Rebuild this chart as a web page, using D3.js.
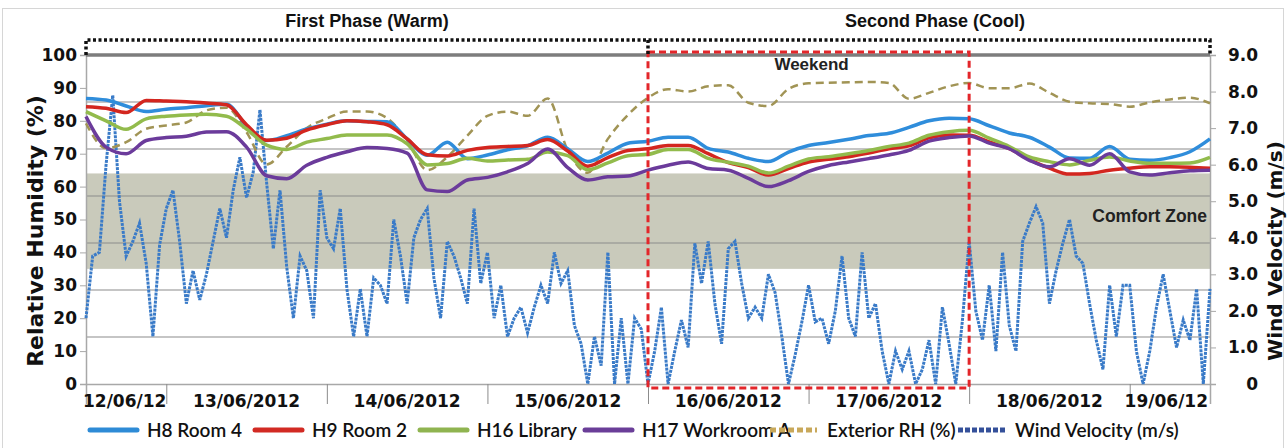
<!DOCTYPE html>
<html>
<head>
<meta charset="utf-8">
<script src="https://cdn.jsdelivr.net/npm/d3@7"></script>
<style>
  body { margin: 0; background: #fff; }
  svg { display: block; }
</style>
</head>
<body>
<svg id="chart"></svg>
<script>
// relative humidity readings, one every 3 hours from 12/06/2012 12:00
const h8Room4 = [86.8, 86.3, 84.5, 82.8, 83.5, 84.0, 84.6, 85.0, 78.5, 74.0, 75.5, 77.5, 79.0, 80.0, 79.8,
  79.7, 74.5, 69.5, 73.5, 68.5, 69.6, 71.2, 72.4, 75.0, 71.5, 67.6, 70.2, 73.2, 73.8, 75.0, 75.0, 71.6,
  70.5, 68.6, 67.6, 70.5, 72.5, 73.4, 74.4, 75.5, 76.2, 78.0, 80.0, 80.8, 80.6, 78.5, 76.3, 75.0, 72.0,
  68.7, 68.6, 72.2, 68.3, 68.0, 68.8, 70.6, 74.5];
const h9Room2 = [84.3, 83.8, 82.5, 86.2, 86.0, 85.8, 85.4, 84.9, 78.8, 74.1, 74.7, 77.2, 78.8, 80.0, 79.7,
  78.8, 74.5, 69.7, 69.3, 71.0, 71.9, 72.2, 72.5, 74.3, 70.8, 66.2, 68.8, 71.0, 71.5, 72.5, 72.5, 70.0,
  67.3, 65.8, 63.5, 65.5, 67.5, 68.3, 69.1, 70.2, 71.5, 72.4, 74.8, 75.7, 75.6, 73.6, 71.5, 68.2, 65.6,
  63.8, 64.0, 65.0, 65.6, 66.0, 66.0, 65.9, 65.6];
const h16Library = [82.8, 80.0, 77.4, 80.6, 81.4, 81.8, 82.0, 81.4, 77.5, 72.6, 71.3, 73.5, 74.6, 75.7, 75.7,
  75.7, 73.0, 66.6, 67.0, 68.6, 67.8, 68.1, 68.3, 70.5, 69.4, 65.1, 67.2, 69.4, 69.8, 71.3, 71.3, 68.6,
  67.4, 66.2, 64.1, 66.2, 68.4, 69.1, 70.0, 71.0, 72.2, 73.2, 75.6, 76.7, 77.1, 74.7, 72.2, 69.0, 67.6,
  66.6, 68.0, 69.0, 67.8, 67.1, 67.1, 67.2, 68.9];
const h17WorkroomA = [81.3, 72.0, 70.0, 74.0, 74.9, 75.3, 76.6, 76.7, 72.0, 63.3, 62.4, 66.5, 68.9, 70.6, 71.9,
  71.6, 70.2, 59.0, 58.5, 62.0, 62.8, 64.5, 67.0, 71.4, 65.8, 62.0, 63.0, 63.2, 65.0, 66.5, 67.5, 65.5,
  65.0, 62.5, 60.0, 61.8, 64.6, 66.4, 67.5, 68.5, 69.6, 71.0, 73.8, 74.9, 75.4, 73.2, 71.5, 68.0, 66.0,
  68.5, 66.5, 70.0, 64.5, 63.5, 64.2, 64.8, 65.0];
const exteriorRH = [79.2, 71.7, 73.5, 77.6, 78.6, 79.5, 83.2, 84.0, 76.5, 66.7, 72.1, 77.8, 80.7, 82.8, 82.8,
  80.8, 74.0, 65.0, 69.0, 75.5, 81.5, 82.8, 81.5, 86.8, 71.0, 64.2, 74.5, 81.8, 87.0, 89.6, 88.9, 90.5,
  90.8, 85.5, 84.5, 89.7, 91.4, 91.6, 91.7, 91.8, 91.5, 86.7, 88.5, 90.5, 91.5, 89.9, 89.9, 91.3, 88.5,
  85.8, 85.3, 85.1, 84.3, 85.6, 86.5, 87.0, 85.3];
// wind velocity (m/s), hourly from 12/06/2012 12:00
const windVelocity = [1.8, 3.5, 3.6, 6.0, 7.9, 5.0, 3.5, 3.9, 4.4, 3.3, 1.3, 3.8, 4.8, 5.3, 3.9, 2.2, 3.1,
  2.3, 3.0, 3.9, 4.8, 4.0, 5.3, 6.2, 5.1, 5.8, 7.5, 5.5, 3.7, 5.3, 3.2, 1.8, 3.5, 3.1, 1.8, 5.3, 4.0, 3.7,
  4.8, 2.6, 1.3, 2.6, 1.3, 2.9, 2.7,
  2.2, 4.5, 3.5, 2.2, 4.0, 4.5, 4.8, 2.9, 1.8, 3.9, 3.5, 2.9, 2.2, 4.8, 2.75, 3.6, 1.8, 2.7, 1.3, 1.8, 2.1,
  1.4, 2.1, 2.7, 2.2, 3.6, 2.75, 3.1, 1.6, 1.1, 0, 1.3, 0.5, 3.6, 0, 1.8, 0, 1.8,
  1.5, 0, 0.9, 2.1, 0, 0.9, 1.75, 1.0, 3.85, 2.75, 3.9, 2.2, 1.1, 3.7, 3.9, 2.75, 1.8, 2.1, 1.8, 3.0, 2.5,
  1.3, 0, 0.8, 1.7, 2.7, 1.7, 1.8, 1.1, 2.0, 3.5, 1.8, 1.3, 3.6, 1.8, 2.2, 0.9, 0, 0.9, 0.4, 0.9, 0, 0.4, 1.2,
  0, 2.1, 1.1, 0, 1.75, 3.9, 2.0, 1.2, 2.7, 0.9, 3.6, 1.6, 0.9, 3.9, 4.4, 4.85, 4.4, 2.2, 3.1, 3.85, 4.5,
  3.5, 3.3, 2.2, 1.2, 0.4, 2.7, 1.3, 2.7, 2.7, 0.9, 0, 0.9, 2.1, 3.0, 2.0, 1.0, 1.75, 1.2, 2.6, 0, 2.6];

const rhTicks = [0, 10, 20, 30, 40, 50, 60, 70, 80, 90, 100];
const windTicks = [0, 1, 2, 3, 4, 5, 6, 7, 8, 9];
const dateLabels = ["12/06/12", "13/06/2012", "14/06/2012", "15/06/2012", "16/06/2012", "17/06/2012", "18/06/2012", "19/06/12"];
const seriesNames = ["H8 Room 4", "H9 Room 2", "H16 Library", "H17 Workroom A", "Exterior RH (%)", "Wind Velocity (m/s)"];
const phaseNames = ["First Phase (Warm)", "Second Phase (Cool)"];
const comfortZone = [35, 64];

const start = new Date(2012, 5, 12, 12);
const end = new Date(2012, 5, 19, 12);
const weekendStart = new Date(2012, 5, 16);
const weekendEnd = new Date(2012, 5, 18);

const W = 1287, H = 448;
const margin = { top: 55, right: 77, bottom: 64, left: 86 };
const width = W - margin.left - margin.right,
  height = H - margin.top - margin.bottom;

const boldTick = "'DejaVu Sans', Verdana, sans-serif";
const arialBold = "'Liberation Sans', Arial, sans-serif";

const svg = d3.select("#chart").attr("width", W).attr("height", H);

svg.append("rect")
  .attr("x", 2.5).attr("y", 8.5).attr("width", 1281).attr("height", 445)
  .attr("fill", "none").attr("stroke", "#d6d6d6");

const g = svg.append("g")
  .attr("transform", "translate(" + margin.left + "," + margin.top + ")");

const x = d3.scaleTime().domain([start, end]).range([0, width]);
const yRH = d3.scaleLinear().domain([0, 100]).range([height, 0]);
const yWind = d3.scaleLinear().domain([0, 9]).range([height, 0]);
const yGrid = d3.scaleLinear().domain([0, 7]).range([height, 0]);

// comfort zone band
g.append("rect")
  .attr("x", 0).attr("width", width)
  .attr("y", yRH(comfortZone[1]))
  .attr("height", yRH(comfortZone[0]) - yRH(comfortZone[1]))
  .attr("fill", "#c9cabb");

// gridlines
g.selectAll(".grid")
  .data(yGrid.ticks(7).filter((d) => d > 0 && d < 7))
  .enter()
  .append("line")
  .attr("x1", 0).attr("x2", width)
  .attr("y1", (d) => yGrid(d)).attr("y2", (d) => yGrid(d))
  .attr("stroke", "#8c8c8c").attr("stroke-width", 1.2);

// left axis
const leftAxis = g.append("g")
  .call(d3.axisLeft(yRH).tickValues(rhTicks).tickSize(6).tickPadding(3));
leftAxis.select(".domain").attr("stroke", "#a8a8a8").attr("stroke-width", 1.5);
leftAxis.selectAll(".tick line").attr("stroke", "#a8a8a8");
leftAxis.selectAll("text")
  .attr("font-family", boldTick).attr("font-weight", "bold")
  .attr("font-size", "17px").attr("fill", "#111");

// right axis
const rightAxis = g.append("g")
  .attr("transform", "translate(" + width + ",0)")
  .call(d3.axisRight(yWind).tickValues(windTicks).tickSize(6)
    .tickFormat((d) => (d === 0 ? "0" : d.toFixed(1))));
rightAxis.select(".domain").attr("stroke", "#a8a8a8").attr("stroke-width", 1.5);
rightAxis.selectAll(".tick line").attr("stroke", "#a8a8a8");
rightAxis.selectAll("text")
  .attr("x", 48).attr("text-anchor", "end")
  .attr("font-family", boldTick).attr("font-weight", "bold")
  .attr("font-size", "17px").attr("fill", "#111");

// bottom axis
const xAxis = g.append("g")
  .attr("transform", "translate(0," + height + ")")
  .call(d3.axisBottom(x).tickValues(d3.timeDay.range(d3.timeDay.ceil(start), end))
    .tickSize(20).tickFormat(""));
xAxis.select(".domain").attr("stroke", "#a8a8a8").attr("stroke-width", 1.5);
xAxis.selectAll(".tick line").attr("stroke", "#8c8c8c");

g.selectAll(".dateLabel")
  .data(dateLabels)
  .enter()
  .append("text")
  .attr("x", (d, i) => {
    if (i === 0) return -3;
    if (i === dateLabels.length - 1) return width - 2;
    return x(d3.timeHour.offset(d3.timeDay.offset(new Date(2012, 5, 12), i), 12));
  })
  .attr("y", height + 23)
  .attr("text-anchor", (d, i) => (i === 0 ? "start" : i === dateLabels.length - 1 ? "end" : "middle"))
  .attr("font-family", boldTick).attr("font-weight", "bold")
  .attr("font-size", "17px").attr("fill", "#111")
  .text((d) => d);

// series
const rhTime = (i) => d3.timeHour.offset(start, i * 3);
const rhLine = d3.line()
  .x((d, i) => x(rhTime(i)))
  .y((d) => yRH(d))
  .curve(d3.curveMonotoneX);
const windLine = d3.line()
  .x((d, i) => x(d3.timeHour.offset(start, i)))
  .y((d) => yWind(d));

g.append("path")
  .datum(windVelocity)
  .attr("d", windLine)
  .attr("fill", "none").attr("stroke", "#3a7bc8")
  .attr("stroke-width", 3).attr("stroke-dasharray", "3,1");

g.append("path")
  .datum(exteriorRH)
  .attr("d", rhLine)
  .attr("fill", "none").attr("stroke", "#a19455")
  .attr("stroke-width", 2.5).attr("stroke-dasharray", "8,5");

const indoor = [
  { values: h8Room4, color: "#2f8ddb" },
  { values: h9Room2, color: "#d3261f" },
  { values: h16Library, color: "#92bb4c" },
  { values: h17WorkroomA, color: "#6b3b9b" },
];
indoor.forEach((s) => {
  g.append("path")
    .datum(s.values)
    .attr("d", rhLine)
    .attr("fill", "none").attr("stroke", s.color)
    .attr("stroke-width", 3.5).attr("stroke-linejoin", "round");
});

// top border of the plot
g.append("line")
  .attr("x1", 0).attr("x2", width).attr("y1", 0).attr("y2", 0)
  .attr("stroke", "#7d7d7d").attr("stroke-width", 3.5);

// weekend box
g.append("rect")
  .attr("x", x(weekendStart)).attr("y", -3)
  .attr("width", x(weekendEnd) - x(weekendStart)).attr("height", height + 7)
  .attr("fill", "none").attr("stroke", "#e3262a")
  .attr("stroke-width", 3).attr("stroke-dasharray", "7,4");

g.append("text")
  .attr("x", (x(weekendStart) + x(weekendEnd)) / 2 + 3).attr("y", 15)
  .attr("text-anchor", "middle")
  .attr("font-family", arialBold).attr("font-weight", "bold")
  .attr("font-size", "17px").attr("fill", "#222")
  .text("Weekend");

g.append("text")
  .attr("x", width - 3).attr("y", 167)
  .attr("text-anchor", "end")
  .attr("font-family", arialBold).attr("font-weight", "bold")
  .attr("font-size", "17.5px").attr("fill", "#222")
  .text("Comfort Zone");

// phase brackets
const phaseBounds = [start, weekendStart, end];
g.append("path")
  .attr("d", "M0,0V-15H" + width + "V0M" + x(weekendStart) + ",-15V0")
  .attr("fill", "none").attr("stroke", "#111")
  .attr("stroke-width", 3.5).attr("stroke-dasharray", "3,2.5");

g.selectAll(".phase")
  .data(phaseNames)
  .enter()
  .append("text")
  .attr("x", (d, i) => (x(phaseBounds[i]) + x(phaseBounds[i + 1])) / 2 + i * 6)
  .attr("y", -28)
  .attr("text-anchor", "middle")
  .attr("font-family", arialBold).attr("font-weight", "bold")
  .attr("font-size", "18px").attr("fill", "#111")
  .text((d) => d);

// axis titles
svg.append("text")
  .attr("transform", "translate(35,231)rotate(-90)")
  .attr("dy", "0.35em")
  .attr("text-anchor", "middle")
  .attr("font-family", boldTick).attr("font-weight", "bold")
  .attr("font-size", "22px").attr("fill", "#111")
  .text("Relative Humidity (%)");

svg.append("text")
  .attr("transform", "translate(1275,251)rotate(-90)")
  .attr("dy", "0.35em")
  .attr("text-anchor", "middle")
  .attr("font-family", boldTick).attr("font-weight", "bold")
  .attr("font-size", "20px").attr("fill", "#111")
  .text("Wind Velocity (m/s)");

// legend
const legendX = [90, 255, 420, 585, 770, 958];
const legendStyle = [
  { color: "#2e8bd6", dash: null },
  { color: "#d22a23", dash: null },
  { color: "#8fb450", dash: null },
  { color: "#6a3e98", dash: null },
  { color: "#c8a85a", dash: "6,3" },
  { color: "#34509a", dash: "5,2" },
];
const legend = svg.selectAll(".legend")
  .data(seriesNames)
  .enter()
  .append("g")
  .attr("transform", (d, i) => "translate(" + legendX[i] + ",430)");
legend.append("line")
  .attr("x1", 0).attr("x2", 47)
  .attr("stroke", (d, i) => legendStyle[i].color)
  .attr("stroke-width", 5)
  .attr("stroke-linecap", (d, i) => (legendStyle[i].dash ? "butt" : "round"))
  .attr("stroke-dasharray", (d, i) => legendStyle[i].dash);
legend.append("text")
  .attr("x", 57).attr("y", 7)
  .attr("font-family", "Lato, 'Open Sans', sans-serif").attr("font-weight", 600)
  .attr("font-size", "19px").attr("fill", "#111")
  .text((d) => d);
</script>
</body>
</html>
